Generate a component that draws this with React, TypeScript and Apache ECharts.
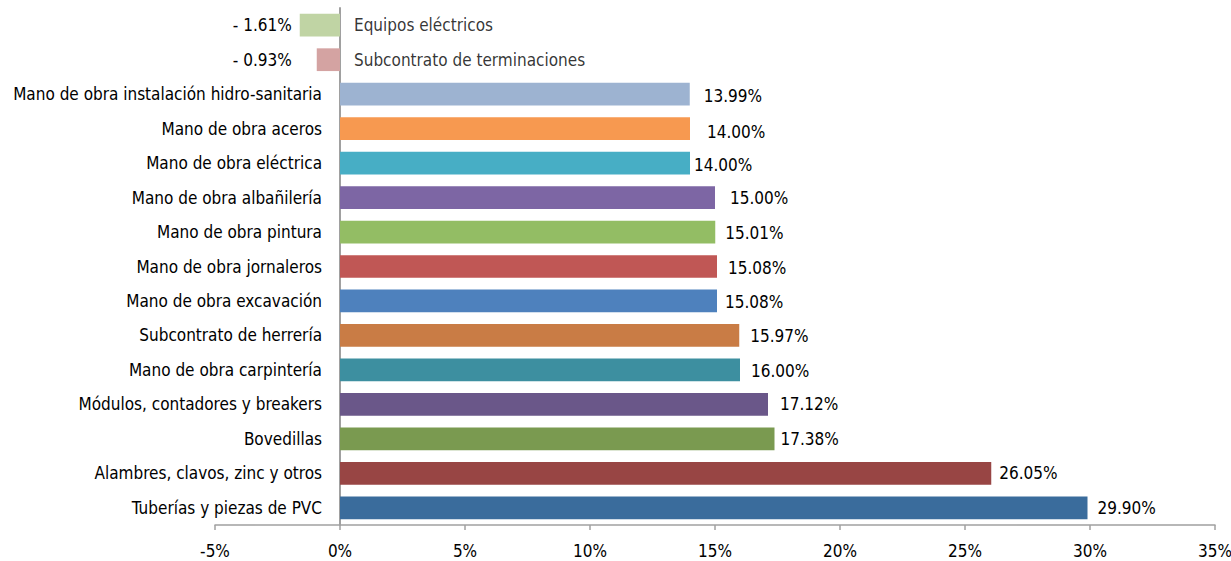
import React, { useEffect, useRef } from "react";
import * as echarts from "echarts";

const categories = [
  "Equipos eléctricos",
  "Subcontrato de terminaciones",
  "Mano de obra instalación hidro-sanitaria",
  "Mano de obra aceros",
  "Mano de obra eléctrica",
  "Mano de obra albañilería",
  "Mano de obra pintura",
  "Mano de obra jornaleros",
  "Mano de obra excavación",
  "Subcontrato de herrería",
  "Mano de obra carpintería",
  "Módulos, contadores y breakers",
  "Bovedillas",
  "Alambres, clavos, zinc y otros",
  "Tuberías y piezas de PVC",
];

const values = [-1.61, -0.93, 13.99, 14.0, 14.0, 15.0, 15.01, 15.08, 15.08, 15.97, 16.0, 17.12, 17.38, 26.05, 29.9];

const colors = [
  "#c0d4a4", "#d4a3a2", "#9db3d1", "#f79950", "#47aec5", "#7d66a4", "#93bd64",
  "#c05755", "#4e81bd", "#c97c45", "#3d8fa0", "#6a5789", "#7a9a50", "#984544", "#3a6c9c",
];

const labelDistances = [8, 25, 14, 17, 4, 15, 10, 11, 8, 11, 11, 12, 6, 8, 10];
const labelYOffsets = [0, 0, 2, 3, 2, 0, 1, 1, 1, 1, 1, 0, 0, 0, 0];

const xTicks = [-5, 0, 5, 10, 15, 20, 25, 30, 35];

const FONT = "'Liberation Sans Narrow', 'DejaVu Sans Condensed', 'Roboto Condensed', sans-serif";

function fmt(v: number): string {
  return v < 0 ? "- " + Math.abs(v).toFixed(2) + "%" : v.toFixed(2) + "%";
}

export default function App() {
  const ref = useRef<HTMLDivElement>(null);
  useEffect(() => {
    if (!ref.current) return;
    const chart = echarts.init(ref.current, undefined, { renderer: "svg" });
    const negCats = categories.filter((_, i) => values[i] < 0);
    chart.setOption({
      animation: false,
      grid: { left: 215, right: 16, top: 8, bottom: 36, containLabel: false, outerBoundsMode: "none" },
      xAxis: {
        type: "value",
        min: xTicks[0],
        max: xTicks[xTicks.length - 1],
        interval: 5,
        splitLine: { show: false },
        axisLine: { show: true, lineStyle: { color: "#a0a0a0", width: 1.5 } },
        axisTick: { show: true, length: 5, lineStyle: { color: "#a0a0a0", width: 1.5 } },
        axisLabel: {
          formatter: (v: number) => v + "%",
          color: "#000",
          fontFamily: FONT,
          fontSize: 17,
          margin: 17,
        },
      },
      yAxis: {
        type: "category",
        inverse: true,
        data: categories,
        axisLine: { show: true, onZero: true, lineStyle: { color: "#a0a0a0", width: 2 } },
        axisTick: { show: false },
        axisLabel: {
          color: "#000",
          fontFamily: FONT,
          fontSize: 17,
          margin: -107,
          align: "right",
          formatter: (v: string) => (negCats.includes(v) ? "" : v),
        },
      },
      series: [
        {
          type: "bar",
          barCategoryGap: "34%",
          data: values.map((v, i) => ({
            value: v,
            itemStyle: { color: colors[i] },
            label: {
              show: true,
              position: v < 0 ? "left" : "right",
              distance: labelDistances[i],
              offset: [0, labelYOffsets[i]],
              formatter: fmt(v),
              color: "#000",
              fontFamily: FONT,
              fontSize: 17,
            },
          })),
        },
        {
          type: "scatter",
          symbolSize: 0,
          silent: true,
          data: categories
            .map((c, i) => ({ c, v: values[i] }))
            .filter((d) => d.v < 0)
            .map((d) => ({ value: [0, d.c], name: d.c })),
          label: {
            show: true,
            position: "right",
            distance: 14,
            formatter: (p: any) => p.name,
            color: "#000",
            fontFamily: FONT,
            fontSize: 17,
          },
        },
      ],
    });
    return () => chart.dispose();
  }, []);
  return (
    <div
      ref={ref}
      style={{ position: "fixed", left: 0, top: 0, width: 1231, height: 561, background: "#fff" }}
    />
  );
}
